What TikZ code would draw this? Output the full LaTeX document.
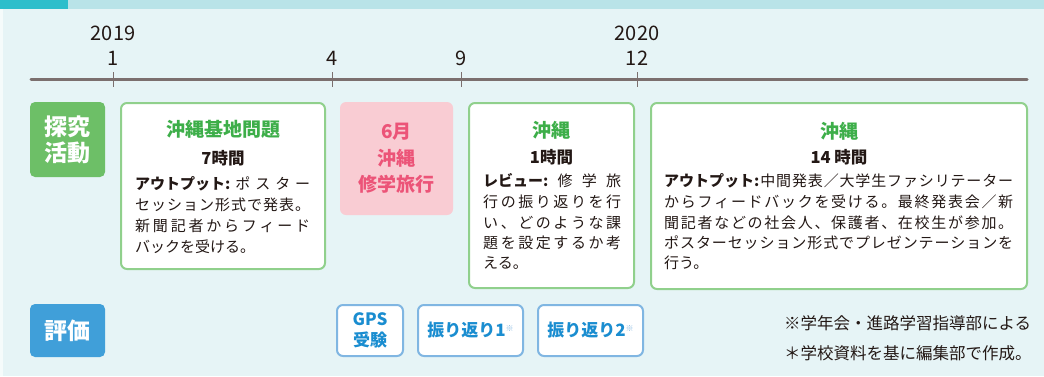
\documentclass[tikz,border=0pt]{standalone}
\usepackage{fontspec}
\setmainfont{Noto Sans CJK JP}
\definecolor{bgc}{HTML}{E6F4F6}
\definecolor{bandc}{HTML}{B9E3E8}
\definecolor{tealc}{HTML}{2DBECB}
\definecolor{linec}{HTML}{7B6F6E}
\definecolor{greenlab}{HTML}{6DBF67}
\definecolor{greentitle}{HTML}{3DAE49}
\definecolor{greenedge}{HTML}{90D08C}
\definecolor{pinkfill}{HTML}{F9CCD3}
\definecolor{pinktext}{HTML}{EC5478}
\definecolor{bluelab}{HTML}{409FD9}
\definecolor{blueedge}{HTML}{80B6E2}
\definecolor{bluetext}{HTML}{1A8DD0}
\definecolor{bodyc}{HTML}{231815}
% spread characters of a line over a given width
\def\jsStop{\relax}
\def\jspread#1{\jsA#1\relax}
\def\jsA#1{{#1}\jsB}
\def\jsB#1{\def\jsTmp{#1}\ifx\jsTmp\jsStop\else\hskip 0pt plus 1fil{#1}\expandafter\jsB\fi}
\newcommand\jline[2]{\makebox[#1][s]{\jspread{#2}}}
\tikzset{
  labelbox/.style={rounded corners=5pt, inner sep=0pt, text=white,
    font=\fontsize{23}{26}\selectfont\bfseries, align=center},
  cardbox/.style={draw=greenedge, line width=2pt, fill=white, rounded corners=6pt, inner sep=0pt},
  pinkbox/.style={fill=pinkfill, rounded corners=6pt, inner sep=0pt, text=pinktext,
    font=\fontsize{19}{26.5}\selectfont\bfseries, align=center},
  evalbox/.style={draw=blueedge, line width=2pt, fill=white, rounded corners=6pt, inner sep=0pt,
    text=bluetext, font=\fontsize{17}{21.5}\selectfont\bfseries, align=center},
  title/.style={text=greentitle, font=\fontsize{19}{22}\selectfont\bfseries, inner sep=0pt},
  hours/.style={text=bodyc, font=\fontsize{16.5}{18}\selectfont\bfseries, inner sep=0pt},
  body/.style={text=bodyc, font=\fontsize{15}{18}\selectfont, inner sep=0pt, anchor=west},
  yearlbl/.style={text=bodyc, font=\fontsize{20}{22}\selectfont, inner sep=0pt},
  ticklbl/.style={text=bodyc, font=\fontsize{20}{22}\selectfont, inner sep=0pt},
  timeline/.style={draw=linec, line width=3pt, line cap=round},
  tickmark/.style={draw=linec, line width=0.9pt},
  note/.style={text=bodyc, font=\fontsize{16.5}{20}\selectfont, inner sep=0pt, anchor=west}
}
\begin{document}
\begin{tikzpicture}[x=1pt,y=-1pt]
\useasboundingbox (0,0) rectangle (1044,376);
\fill[bgc] (0,0) rectangle (1044,376);
\fill[white!60!bgc] (0,9) rectangle (3,376);
\fill[bandc] (0,0) rectangle (1044,9);
\fill[tealc] (0,0) rectangle (68,9);
% timeline
\coordinate (tl0) at (31,79);
\coordinate (tl1) at (1027,79);
\draw[timeline] (tl0) -- (tl1);
\coordinate (m1) at (113,79);
\coordinate (m4) at (332,79);
\coordinate (m9) at (461,79);
\coordinate (m12) at (637,79);
\foreach \m in {m1,m4,m9,m12}
  \draw[tickmark] ([yshift=7pt]\m) -- ([yshift=-8pt]\m);
\node[yearlbl] (y2019) at (113,33) {2019};
\node[yearlbl] (y2020) at (637,33) {2020};
\node[ticklbl] (l1) at (113,58) {1};
\node[ticklbl] (l4) at (332,58) {4};
\node[ticklbl] (l9) at (461,58) {9};
\node[ticklbl] (l12) at (637,58) {12};
% row labels
\node[labelbox, fill=greenlab, minimum width=75pt, minimum height=75pt] (tankyu) at (67.5,139.5) {探究\\活動};
\node[labelbox, fill=bluelab, minimum width=75pt, minimum height=53pt] (hyoka) at (67.5,330.5) {評価};
% card 1
\node[cardbox, minimum width=204pt, minimum height=166pt] (c1) at (223,186) {};
\node[title] (c1t) at (223,129) {沖縄基地問題};
\node[hours] (c1h) at (223,158) {7時間};
\node[body] (c1a) at (135,184) {\jline{175pt}{{\bfseries アウトプット:} ポスター}};
\node[body] (c1b) at (135,205) {\jline{175pt}{セッション形式で発表。}};
\node[body] (c1c) at (135,226) {\jline{175pt}{新聞記者からフィード}};
\node[body] (c1d) at (135,247) {バックを受ける。};
% trip
\node[pinkbox, minimum width=113pt, minimum height=113pt] (trip) at (396.5,158.5) {6月\\沖縄\\修学旅行};
% card 3
\node[cardbox, minimum width=165pt, minimum height=185pt] (c3) at (551.5,195.5) {};
\node[title] (c3t) at (551.5,130) {沖縄};
\node[hours] (c3h) at (551.5,157) {1時間};
\node[body] (c3a) at (483,181) {\jline{138pt}{{\bfseries レビュー:}修学旅}};
\node[body] (c3b) at (483,202) {\jline{138pt}{行の振り返りを行}};
\node[body] (c3c) at (483,223) {\jline{138pt}{い、どのような課}};
\node[body] (c3d) at (483,243) {\jline{138pt}{題を設定するか考}};
\node[body] (c3e) at (483,263) {える。};
% card 4
\node[cardbox, minimum width=376pt, minimum height=186pt] (c4) at (839,196) {};
\node[title] (c4t) at (839,131) {沖縄};
\node[hours] (c4h) at (839,157) {14 時間};
\node[body] (c4a) at (664,181) {\jline{349pt}{{\bfseries アウトプット:}中間発表／大学生ファシリテーター}};
\node[body] (c4b) at (664,202) {\jline{349pt}{からフィードバックを受ける。最終発表会／新}};
\node[body] (c4c) at (664,223) {\jline{349pt}{聞記者などの社会人、保護者、在校生が参加。}};
\node[body] (c4d) at (664,243) {\jline{349pt}{ポスターセッション形式でプレゼンテーションを}};
\node[body] (c4e) at (664,263) {行う。};
% evaluation
\node[evalbox, minimum width=66pt, minimum height=51pt] (gps) at (370,330.5) {GPS\\受験};
\node[evalbox, minimum width=105pt, minimum height=51pt] (r1) at (470.5,330.5) {振り返り1\raisebox{5pt}{\fontsize{8}{8}\selectfont\color{blueedge}※}};
\node[evalbox, minimum width=105pt, minimum height=51pt] (r2) at (590.5,330.5) {振り返り2\raisebox{5pt}{\fontsize{8}{8}\selectfont\color{blueedge}※}};
% notes
\node[note] (n1) at (784,323) {※学年会・進路学習指導部による};
\node[note] (n2) at (784,353) {＊学校資料を基に編集部で作成。};
\end{tikzpicture}
\end{document}
